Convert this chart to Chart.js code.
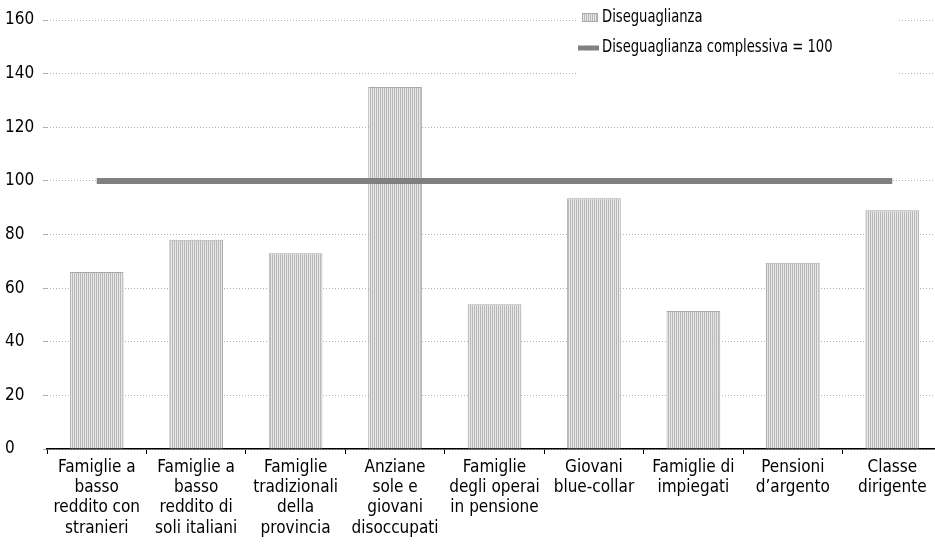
<!DOCTYPE html>
<html>
<head>
<meta charset="utf-8">
<script src="https://cdn.jsdelivr.net/npm/chart.js@4"></script>
<style>
  html, body { margin: 0; padding: 0; background: #fff; overflow: hidden; }
  #wrap { width: 942px; height: 548px; position: relative; }
</style>
</head>
<body>
<div id="wrap"><canvas id="c" width="942" height="548"></canvas></div>
<script>
const categories = [
  ['Famiglie a', 'basso', 'reddito con', 'stranieri'],
  ['Famiglie a', 'basso', 'reddito di', 'soli italiani'],
  ['Famiglie', 'tradizionali', 'della', 'provincia'],
  ['Anziane', 'sole e', 'giovani', 'disoccupati'],
  ['Famiglie', 'degli operai', 'in pensione'],
  ['Giovani', 'blue-collar'],
  ['Famiglie di', 'impiegati'],
  ['Pensioni', 'd\u2019argento'],
  ['Classe', 'dirigente']
];
const diseguaglianza = [66, 78, 73, 135, 54, 93.5, 51.5, 69.5, 89];
const complessiva = [100, 100, 100, 100, 100, 100, 100, 100, 100];
const yTicks = [0, 20, 40, 60, 80, 100, 120, 140, 160];
const seriesLabels = ['Diseguaglianza', 'Diseguaglianza complessiva = 100'];

const FONT = "'Liberation Sans Narrow', 'DejaVu Sans Condensed', sans-serif";

function makePattern() {
  const p = document.createElement('canvas');
  p.width = 2; p.height = 2;
  const g = p.getContext('2d');
  g.fillStyle = '#e8e8e8';
  g.fillRect(0, 0, 2, 2);
  g.fillStyle = '#b8b8b8';
  g.fillRect(0, 0, 1, 2);
  return document.getElementById('c').getContext('2d').createPattern(p, 'repeat');
}
const barPattern = makePattern();

const legendPlugin = {
  id: 'customLegend',
  afterDraw(chart) {
    const ctx = chart.ctx;
    ctx.save();
    ctx.fillStyle = '#ffffff';
    ctx.fillRect(576, 0, 322, 82);
    ctx.fillStyle = barPattern;
    ctx.fillRect(582, 13, 16, 9);
    ctx.strokeStyle = '#aaaaaa';
    ctx.lineWidth = 1;
    ctx.strokeRect(582.5, 13.5, 15, 8);
    ctx.strokeStyle = '#808080';
    ctx.lineWidth = 5;
    ctx.beginPath();
    ctx.moveTo(578, 48);
    ctx.lineTo(599, 48);
    ctx.stroke();
    ctx.fillStyle = '#000';
    ctx.font = '17px ' + FONT;
    ctx.textBaseline = 'middle';
    ctx.textAlign = 'left';
    ctx.translate(602, 0);
    ctx.scale(0.86, 1);
    ctx.fillText(seriesLabels[0], 0, 18);
    ctx.fillText(seriesLabels[1], 0, 48);
    ctx.restore();
  }
};

new Chart(document.getElementById('c'), {
  type: 'bar',
  data: {
    labels: categories,
    datasets: [
      {
        type: 'line',
        label: seriesLabels[1],
        data: complessiva,
        borderColor: '#808080',
        borderWidth: 6,
        pointRadius: 0,
        fill: false,
        order: 0
      },
      {
        type: 'bar',
        label: seriesLabels[0],
        data: diseguaglianza,
        backgroundColor: barPattern,
        borderColor: '#aaaaaa',
        borderWidth: 1,
        barPercentage: 0.9,
        categoryPercentage: 0.6,
        order: 1
      }
    ]
  },
  options: {
    responsive: false,
    animation: false,
    devicePixelRatio: 1,
    layout: { padding: { top: 20, right: 0, left: 5, bottom: 0 } },
    plugins: {
      legend: { display: false },
      tooltip: { enabled: false }
    },
    scales: {
      x: {
        grid: {
          display: true,
          offset: true,
          drawOnChartArea: false,
          drawTicks: true,
          tickLength: 5,
          color: '#000'
        },
        border: { display: true, color: '#000', width: 1.5 },
        ticks: {
          color: '#000',
          font: { family: FONT, size: 17 },
          maxRotation: 0,
          autoSkip: false,
          padding: 3
        },
        afterFit(s) { s.height = 99; }
      },
      y: {
        min: 0,
        max: 160,
        afterBuildTicks(s) { s.ticks = yTicks.map(v => ({ value: v })); },
        grid: {
          color: '#b0b0b0',
          lineWidth: 1,
          tickLength: 4,
          drawTicks: true
        },
        border: { display: false, dash: [1, 2] },
        ticks: {
          color: '#000',
          font: { family: FONT, size: 17 },
          crossAlign: 'far',
          padding: 6
        },
        afterFit(s) { s.width = 42; }
      }
    }
  },
  plugins: [legendPlugin]
});
</script>
</body>
</html>
